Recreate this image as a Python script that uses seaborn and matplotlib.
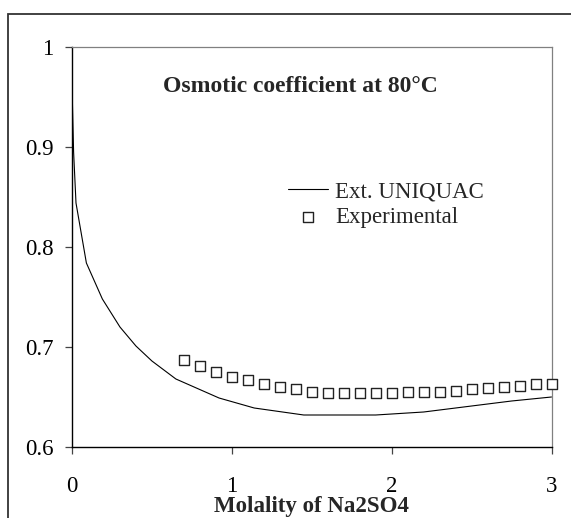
import matplotlib
matplotlib.use("Agg")
import matplotlib.pyplot as plt
import matplotlib.patches as mpatches
import seaborn as sns
import pandas as pd

# ---- data ----
model_molality = [0.0005, 0.01, 0.025, 0.09, 0.19, 0.3, 0.4, 0.5, 0.65, 0.92,
                  1.14, 1.45, 1.9, 2.2, 2.4, 2.75, 3.0]
model_phi = [0.958, 0.895, 0.844, 0.784, 0.748, 0.720, 0.701, 0.686, 0.668, 0.649,
             0.639, 0.632, 0.632, 0.635, 0.639, 0.646, 0.650]

exp_molality = [0.7, 0.8, 0.9, 1.0, 1.1, 1.2, 1.3, 1.4, 1.5, 1.6, 1.7, 1.8,
                1.9, 2.0, 2.1, 2.2, 2.3, 2.4, 2.5, 2.6, 2.7, 2.8, 2.9, 3.0]
exp_phi = [0.687, 0.681, 0.675, 0.670, 0.667, 0.663, 0.660, 0.658, 0.655, 0.654, 0.654, 0.654,
           0.654, 0.654, 0.655, 0.655, 0.655, 0.656, 0.658, 0.659, 0.660, 0.661, 0.663, 0.663]

x_ticks = [0, 1, 2, 3]
x_tick_labels = ["0", "1", "2", "3"]
y_ticks = [0.6, 0.7, 0.8, 0.9, 1.0]
y_tick_labels = ["0.6", "0.7", "0.8", "0.9", "1"]

title_text = "Osmotic coefficient at 80°C"
x_label = "Molality of Na2SO4"
model_label = "Ext. UNIQUAC"
exp_label = "Experimental"

df_model = pd.DataFrame({"m": model_molality, "phi": model_phi})
df_exp = pd.DataFrame({"m": exp_molality, "phi": exp_phi})

# ---- style ----
sns.set_theme(style="white")
plt.rcParams["font.family"] = ["Liberation Serif", "DejaVu Serif"]

fig = plt.figure(figsize=(5.71, 5.18), dpi=100)
ax = fig.add_axes([72 / 571, 1 - 447 / 518, (551.5 - 72) / 571, (447 - 47) / 518])

sns.lineplot(data=df_model, x="m", y="phi", ax=ax, color="black", linewidth=0.8,
             label=model_label, sort=False, estimator=None)
sns.scatterplot(data=df_exp, x="m", y="phi", ax=ax, marker="s", s=50,
                facecolor="white", edgecolor="#222222", linewidth=1.0,
                label=exp_label, clip_on=False, zorder=3)

ax.set_xlim(0, 3)
ax.set_ylim(0.6, 1.0)
ax.set_xticks(x_ticks)
ax.set_xticklabels(x_tick_labels)
ax.set_yticks(y_ticks)
ax.set_yticklabels(y_tick_labels)

ax.tick_params(axis="both", direction="out", length=5, width=0.9, color="#444444",
               labelsize=16.5, labelcolor="black")
ax.tick_params(axis="x", pad=16, bottom=True)
ax.tick_params(axis="y", pad=8.5, left=True)

ax.set_xlabel(x_label, fontsize=16.5, fontweight="bold", labelpad=-0.5)
ax.set_ylabel("")

for side in ["left", "bottom"]:
    ax.spines[side].set_color("black")
    ax.spines[side].set_linewidth(1.0)
for side in ["top", "right"]:
    ax.spines[side].set_color("#808080")
    ax.spines[side].set_linewidth(0.9)

ax.text(1.43, 0.961, title_text, fontsize=17, fontweight="bold",
        ha="center", va="center")

leg = ax.legend(loc="upper left", bbox_to_anchor=(288 / 571, 1 - 181 / 518),
                bbox_transform=fig.transFigure, frameon=False, fontsize=16.5,
                borderpad=0, borderaxespad=0, handlelength=1.75, handletextpad=0.3,
                labelspacing=0.2)

# outer frame
frame = mpatches.Rectangle((8 / 571, -0.2), 1.5, (1 - 14 / 518) + 0.2,
                           transform=fig.transFigure, fill=False,
                           edgecolor="#333333", linewidth=1.3, clip_on=False)
fig.patches.append(frame)

fig.savefig("out.png", dpi=100)
